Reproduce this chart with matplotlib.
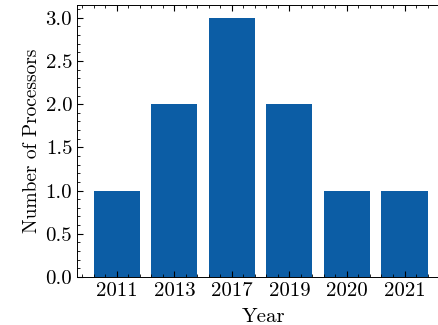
import matplotlib
matplotlib.use("Agg")
from matplotlib import pyplot as plt
import matplotlib.ticker as ticker

years = ["2011", "2013", "2017", "2019", "2020", "2021"]
counts = [1, 2, 3, 2, 1, 1]

plt.rcParams.update({
    "font.family": "serif",
    "font.serif": ["cmr10", "DejaVu Serif"],
    "mathtext.fontset": "cm",
    "axes.formatter.use_mathtext": True,
    "axes.unicode_minus": False,
    "font.size": 15,
    "xtick.direction": "in",
    "ytick.direction": "in",
    "xtick.top": True,
    "ytick.right": True,
    "xtick.major.size": 4,
    "ytick.major.size": 4,
    "xtick.minor.size": 2,
    "ytick.minor.size": 2,
    "xtick.minor.visible": True,
    "ytick.minor.visible": True,
    "axes.linewidth": 0.7,
})

fig = plt.figure(figsize=(4.38, 3.25), dpi=100)
# original figure is cropped on the right, so the axes run past the edge
ax = fig.add_axes([0.176, 0.148, 0.85, 0.837])

ax.bar(years, counts, width=0.8, color="#0C5DA5")
ax.set_xlim(-0.69, 5.78)

ax.set_xlabel("Year", labelpad=6)
ax.set_ylabel("Number of Processors", fontsize=14, labelpad=3)
ax.yaxis.set_major_locator(ticker.MultipleLocator(0.5))
ax.yaxis.set_major_formatter(ticker.FormatStrFormatter("%.1f"))
ax.yaxis.set_minor_locator(ticker.AutoMinorLocator(5))
ax.xaxis.set_minor_locator(ticker.AutoMinorLocator(5))

fig.savefig("out.png", dpi=100)
